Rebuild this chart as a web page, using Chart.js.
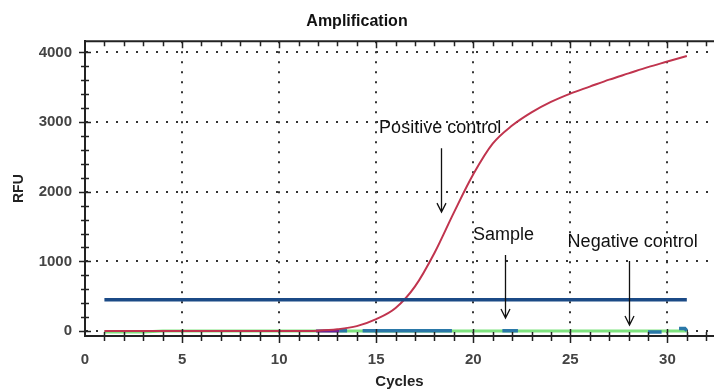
<!DOCTYPE html>
<html>
<head>
<meta charset="utf-8">
<script src="https://cdn.jsdelivr.net/npm/chart.js@4"></script>
<style>
  html, body { margin: 0; padding: 0; background: #fff; }
  #wrap { width: 714px; height: 392px; position: relative; }
</style>
</head>
<body>
<div id="wrap"><canvas id="amp-chart"></canvas></div>
<script>
// values
const cycles = [1,2,3,4,5,6,7,8,9,10,11,12,13,14,15,16,17,18,19,20,21,22,23,24,25,26,27,28,29,30,31];
const positiveRfu = [0,0,0,0,0,0,0,0,0,0,0,5,25,70,170,330,640,1120,1700,2250,2690,2950,3140,3290,3410,3510,3610,3700,3790,3870,3950];
const negativeRfu = [-15,-15,-15,0,0,0,0,0,0,0,0,0,0,0,0,0,0,0,0,0,0,0,0,0,0,0,0,0,0,0,0];
// sample trace only shows where it lies above the negative control
const sampleCycles = [13.1,13.5,13.9,14.3,16,18.9,20.2,21.5,22.3,25.6,29,29.7,30.2,30.6,30.9,31];
const sampleRfu = [5,5,null,5,5,5,null,5,5,null,-15,-15,null,35,35,5];
const otherCycles = [11.9,13.1];
const otherRfu = [0,0];
const thresholdCycles = [1,31];
const thresholdRfu = [450,450];

const xTicks = [0,5,10,15,20,25,30];
const yTicks = [0,1000,2000,3000,4000];

// text labels with arrows (data coordinates)
const notes = [
  { text: "Positive control", x: 15.15, y: 2912, ax: 18.35, ay1: 2625, ay2: 1707 },
  { text: "Sample", x: 19.98, y: 1377, ax: 21.66, ay1: 1093, ay2: 187 },
  { text: "Negative control", x: 24.86, y: 1277, ax: 28.0, ay1: 1006, ay2: 86 }
];

function pts(xs, ys) {
  return xs.map((x, i) => ({ x: x, y: ys[i] }));
}

// axis decorations: crossing tick marks, top frame, notes
const framePlugin = {
  id: "frame",
  afterDatasetsDraw(chart) {
    const c = chart.ctx;
    const x = chart.scales.x, y = chart.scales.y;
    const area = chart.chartArea;
    c.save();
    c.strokeStyle = "#222";
    c.lineWidth = 2;
    c.beginPath();
    c.moveTo(area.left, area.top);
    c.lineTo(area.right, area.top);
    c.stroke();
    c.lineWidth = 1.5;
    for (let v = 1; v <= 32; v++) {
      const px = Math.round(x.getPixelForValue(v)) + 0.5;
      const major = v % 5 === 0;
      c.beginPath();
      c.moveTo(px, area.bottom - (major ? 7 : 4));
      c.lineTo(px, area.bottom + (major ? 7 : 5));
      c.moveTo(px, area.top);
      c.lineTo(px, area.top + (major ? 7 : 5));
      c.stroke();
    }
    for (let v = 0; v <= 4000; v += 200) {
      const py = Math.round(y.getPixelForValue(v)) + 0.5;
      const major = v % 1000 === 0;
      c.beginPath();
      c.moveTo(area.left - (major ? 6 : 4), py);
      c.lineTo(area.left + (major ? 6 : 4), py);
      c.stroke();
    }
    // notes
    c.fillStyle = "#111";
    c.strokeStyle = "#111";
    c.lineWidth = 1.3;
    c.font = "18px 'Liberation Sans', Arial, sans-serif";
    c.textBaseline = "middle";
    c.textAlign = "left";
    notes.forEach(n => {
      c.fillText(n.text, x.getPixelForValue(n.x), y.getPixelForValue(n.y));
      const ax = Math.round(x.getPixelForValue(n.ax)) + 0.5;
      const y1 = y.getPixelForValue(n.ay1), y2 = y.getPixelForValue(n.ay2);
      c.beginPath();
      c.moveTo(ax, y1);
      c.lineTo(ax, y2);
      c.moveTo(ax - 4.5, y2 - 9);
      c.lineTo(ax, y2);
      c.lineTo(ax + 4.5, y2 - 9);
      c.stroke();
    });
    c.restore();
  }
};

const labelFont = { family: "'Liberation Sans', Arial, sans-serif", size: 15, weight: "bold" };
const axisTitleFont = { family: "'Liberation Sans', Arial, sans-serif", size: 15, weight: "bold" };

const ctx = document.getElementById("amp-chart").getContext("2d");
const ampChart = new Chart(ctx, {
  type: "line",
  data: {
    datasets: [
      {
        label: "Threshold",
        data: pts(thresholdCycles, thresholdRfu),
        borderColor: "#1b4a86",
        borderWidth: 3.5
      },
      {
        label: "Positive control",
        data: pts(cycles, positiveRfu),
        borderColor: "#c0344e",
        borderWidth: 2,
        cubicInterpolationMode: "monotone"
      },
      {
        label: "Other",
        data: pts(otherCycles, otherRfu),
        borderColor: "#6a1f9a",
        borderWidth: 3
      },
      {
        label: "Sample",
        data: pts(sampleCycles, sampleRfu),
        borderColor: "#2a78a8",
        borderWidth: 3.5,
        spanGaps: false
      },
      {
        label: "Negative control",
        data: pts(cycles, negativeRfu),
        borderColor: "#7fe37f",
        borderWidth: 3
      }
    ]
  },
  options: {
    responsive: true,
    maintainAspectRatio: false,
    animation: false,
    layout: { padding: 0 },
    elements: { point: { radius: 0 }, line: { tension: 0 } },
    plugins: {
      legend: { display: false },
      tooltip: { enabled: false },
      title: {
        display: true,
        text: "Amplification",
        color: "#111",
        font: { family: "'Liberation Sans', Arial, sans-serif", size: 16, weight: "bold" },
        padding: { top: 12, bottom: 10 }
      }
    },
    scales: {
      x: {
        type: "linear",
        min: 0,
        max: 32.4,
        afterFit(scale) { scale.height = 56; },
        afterBuildTicks(scale) { scale.ticks = xTicks.map(v => ({ value: v })); },
        ticks: {
          color: "#444",
          padding: 15,
          font: labelFont,
          callback: v => String(v)
        },
        grid: {
          drawTicks: false,
          color: c => c.tick && c.tick.value > 0 ? "#333" : "transparent",
          lineWidth: 2
        },
        border: { display: true, color: "#222", width: 2, dash: [2, 8] },
        title: {
          display: true,
          text: "Cycles",
          color: "#222",
          font: axisTitleFont,
          padding: { top: 0, bottom: 1 }
        }
      },
      y: {
        min: -72,
        max: 4162,
        afterFit(scale) { scale.width = 85; },
        afterBuildTicks(scale) { scale.ticks = yTicks.map(v => ({ value: v })); },
        ticks: {
          color: "#444",
          padding: 13,
          font: labelFont,
          callback: v => String(v)
        },
        grid: {
          drawTicks: false,
          color: "#333",
          lineWidth: 2
        },
        border: { display: true, color: "#222", width: 2, dash: [2, 8] },
        title: {
          display: true,
          text: "RFU",
          color: "#222",
          font: { family: "'Liberation Sans', Arial, sans-serif", size: 14, weight: "bold" },
          padding: { top: 11, bottom: 0 }
        }
      }
    }
  },
  plugins: [framePlugin]
});
</script>
</body>
</html>
